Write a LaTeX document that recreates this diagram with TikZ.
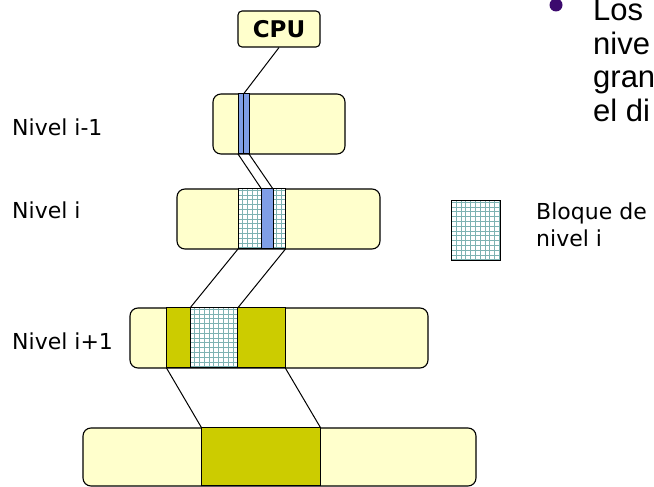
\documentclass[tikz,border=0pt]{standalone}
\usepackage{fontspec}
\setmainfont{DejaVu Sans}
\newfontfamily\slidefont{Liberation Sans}
\usepackage{tikz}
\usetikzlibrary{positioning}
\definecolor{cream}{RGB}{255,255,204}
\definecolor{blockolive}{RGB}{204,204,0}
\definecolor{bandblue}{RGB}{127,158,230}
\definecolor{gridteal}{RGB}{125,178,178}
\definecolor{bulletpurple}{RGB}{60,10,110}
\tikzset{
	level/.style={draw, fill=cream, rounded corners=8pt, line width=1.1pt, inner sep=0pt},
	band/.style={draw, line width=1pt, inner sep=0pt, outer sep=0pt, anchor=south west},
	gridband/.style={band, fill=white, path picture={\draw[gridteal, line width=0.9pt, step=4.8pt] (path picture bounding box.south west) grid (path picture bounding box.north east);}},
	wire/.style={line width=1pt},
	lbl/.style={font=\fontsize{22}{27}\selectfont, inner sep=0pt},
	slide/.style={font={\slidefont\fontsize{31}{36}\selectfont}, inner sep=0pt, anchor=base west}
}

\begin{document}
\begin{tikzpicture}[x=1pt, y=1pt]
	\useasboundingbox (0,0) rectangle (654,487);
	\clip (0,0) rectangle (654,487);
	% memory levels
	\node[level, rounded corners=4pt, minimum width=82pt, minimum height=36pt, font=\bfseries\fontsize{23}{27}\selectfont] at (279,458) (cpu) {CPU};
	\node[level, minimum width=132pt, minimum height=60pt] at (279,363) (upper) {};
	\node[level, minimum width=203pt, minimum height=60pt] at (278.5,268) (middle) {};
	\node[level, minimum width=298pt, minimum height=60pt] at (279,149) (lower) {};
	\node[level, minimum width=393pt, minimum height=58pt] at (279.5,30) (bottom) {};
	% blocks inside the levels
	\node[band, fill=bandblue, minimum width=5.5pt, minimum height=60pt] at (238,333) (blueleft) {};
	\node[band, fill=bandblue, minimum width=5.5pt, minimum height=60pt] at (243.5,333) (blueright) {};
	\node[gridband, minimum width=47.5pt, minimum height=60pt] at (238,238) (gridmid) {};
	\node[band, fill=bandblue, minimum width=11.5pt, minimum height=60pt] at (261.5,238) (bluemid) {};
	\node[band, fill=blockolive, minimum width=23.5pt, minimum height=60pt] at (166.5,119) (oliveleft) {};
	\node[gridband, minimum width=47.7pt, minimum height=60pt] at (190,119) (gridlow) {};
	\node[band, fill=blockolive, minimum width=47.6pt, minimum height=60pt] at (237.7,119) (oliveright) {};
	\node[band, fill=blockolive, minimum width=119pt, minimum height=58pt] at (201.7,1) (olivebottom) {};
	% mapping lines
	\draw[wire] (cpu.south) -- (blueleft.north east);
	\draw[wire] (blueleft.south west) -- (bluemid.north west);
	\draw[wire] (blueright.south east) -- (bluemid.north east);
	\draw[wire] (gridmid.south west) -- (gridlow.north west);
	\draw[wire] (gridmid.south east) -- (gridlow.north east);
	\draw[wire] (oliveleft.south west) -- (olivebottom.north west);
	\draw[wire] (oliveright.south east) -- (olivebottom.north east);
	% labels
	\node[lbl, anchor=base west] at (12,351) (labelup) {Nivel i-1};
	\node[lbl, anchor=base west] at (12,268) (labelmid) {Nivel i};
	\node[lbl, anchor=base west] at (12,137) (labellow) {Nivel i+1};
	% legend
	\node[gridband, anchor=south west, minimum width=49pt, minimum height=60pt] at (451,226) (legendbox) {};
	\node[lbl, align=left, anchor=north west] at (536,284.5) (legendtext) {Bloque de\\nivel i};
	% slide text
	\node[circle, fill=bulletpurple, minimum size=13pt, inner sep=0pt] at (556,482) (dot) {};
	\node[slide] at (593,466) (lineone) {Los};
	\node[slide] at (593,432) (linetwo) {nive};
	\node[slide] at (593,399) (linethree) {gran};
	\node[slide] at (593,365) (linefour) {el di};
\end{tikzpicture}
\end{document}
